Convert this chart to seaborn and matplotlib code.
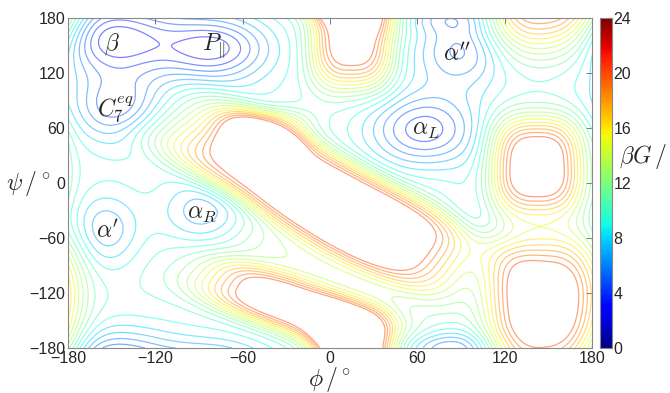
import numpy as np
import matplotlib
matplotlib.use("Agg")
import matplotlib.pyplot as plt
import seaborn as sns

# ---- free-energy landscape: basins (negative) and barriers (positive)
term_names = ["beta", "PII", "C7eq", "left_low", "alphaL", "alpha2", "alpha2_wrap",
              "alphaP", "alphaR", "right_valley", "band", "band_blob", "band_skirt",
              "top_hill", "bottom_hill", "right_up", "right_low"]
term_phi = [-150, -78, -146, -120, 64, 90, 78, -155, -86, 100, -8, -45, 0, 15, -25, 142, 147]
term_psi = [158, 148, 82, 110, 58, 145, -178, -52, -33, -60, -12, 55, -80, 160, -135, 20, -138]
term_su = [30, 26, 20, 70, 28, 26, 25, 18, 22, 15, 105, 25, 55, 22, 55, 25, 31]
term_sv = [28, 24, 24, 70, 30, 30, 12, 30, 26, 55, 34, 20, 35, 45, 22, 42, 64]
term_ang = [0, 0, 0, 0, 0, 0, 0, 0, 0, 0, -41, 0, -30, 0, -30, 0, 0]
term_amp = [-6.5, -6.0, -4.5, -2.5, -7.0, -5.5, -3.0, -4.2, -4.4, -2.0,
            13, 6, 3, 12, 12, 12.5, 12.5]
term_pow = [1, 1, 1, 1, 1, 1, 1, 1, 1, 1, 2, 1.5, 1, 1.5, 1.5, 1.5, 1.5]
base_G = 10.5

contour_levels = list(range(1, 21))
cbar_ticks = [0, 4, 8, 12, 16, 20, 24]
axis_ticks = [-180, -120, -60, 0, 60, 120, 180]

basin_labels = [r"$\beta$", r"$P_{\Vert}$", r"$C_7^{eq}$", r"$\alpha''$", r"$\alpha_L$",
                r"$\alpha'$", r"$\alpha_R$"]
basin_label_phi = [-150, -80, -147, 87, 66, -153, -88]
basin_label_psi = [152, 150, 80, 140, 58, -53, -33]

# ---- build grid
phi = np.linspace(-180, 180, 361)
psi = np.linspace(-180, 180, 361)
P, S = np.meshgrid(phi, psi)
G = np.full_like(P, base_G, dtype=float)
for c1, c2, su, sv, ang, amp, pw in zip(term_phi, term_psi, term_su, term_sv,
                                         term_ang, term_amp, term_pow):
    dphi = (P - c1 + 180) % 360 - 180
    dpsi = (S - c2 + 180) % 360 - 180
    a = np.deg2rad(ang)
    u = dphi * np.cos(a) + dpsi * np.sin(a)
    v = -dphi * np.sin(a) + dpsi * np.cos(a)
    r = np.abs(u / su) ** (2 * pw) + np.abs(v / sv) ** (2 * pw)
    G += amp * np.exp(-0.5 * r)

# ---- style
sns.set_style("white")
plt.rcParams["font.family"] = ["Liberation Sans", "DejaVu Sans"]
plt.rcParams["mathtext.fontset"] = "cm"

cmap = matplotlib.colormaps["jet"]
norm = matplotlib.colors.Normalize(vmin=0, vmax=24)

fig = plt.figure(figsize=(6.7, 3.93), dpi=100)
ax = fig.add_axes([68 / 670, 1 - 348 / 393, (592 - 68) / 670, (348 - 18) / 393])
cax = fig.add_axes([600 / 670, 1 - 348 / 393, 12 / 670, (348 - 18) / 393])

ax.contour(P, S, G, levels=contour_levels, cmap=cmap, norm=norm,
           linewidths=0.9, alpha=0.5)

for lab, x, y in zip(basin_labels, basin_label_phi, basin_label_psi):
    ax.text(x, y, lab, fontsize=17, ha="center", va="center")

ax.set_xlim(-180, 180)
ax.set_ylim(-180, 180)
ax.set_xticks(axis_ticks)
ax.set_yticks(axis_ticks)
ax.tick_params(direction="in", length=4, width=0.7, color="#777777",
               labelsize=11.5, top=True, right=True, pad=2)
for sp in ax.spines.values():
    sp.set_color("#888888")
    sp.set_linewidth(0.8)

fig.text(330 / 670, 1 - 380 / 393, r"$\phi\,/\,^{\circ}$", fontsize=17,
         ha="center", va="center")
fig.text(28 / 670, 1 - 183 / 393, r"$\psi\,/\,^{\circ}$", fontsize=17,
         ha="center", va="center")

cb = fig.colorbar(matplotlib.cm.ScalarMappable(norm=norm, cmap=cmap), cax=cax)
cb.set_ticks(cbar_ticks)
cb.ax.tick_params(labelsize=11.5, direction="in", length=3, pad=1)
cb.outline.set_edgecolor("#888888")
fig.text(619 / 670, 1 - 157 / 393, r"$\beta G\,/\,-$", fontsize=17,
         ha="left", va="center")

fig.savefig("out.png", dpi=100)
